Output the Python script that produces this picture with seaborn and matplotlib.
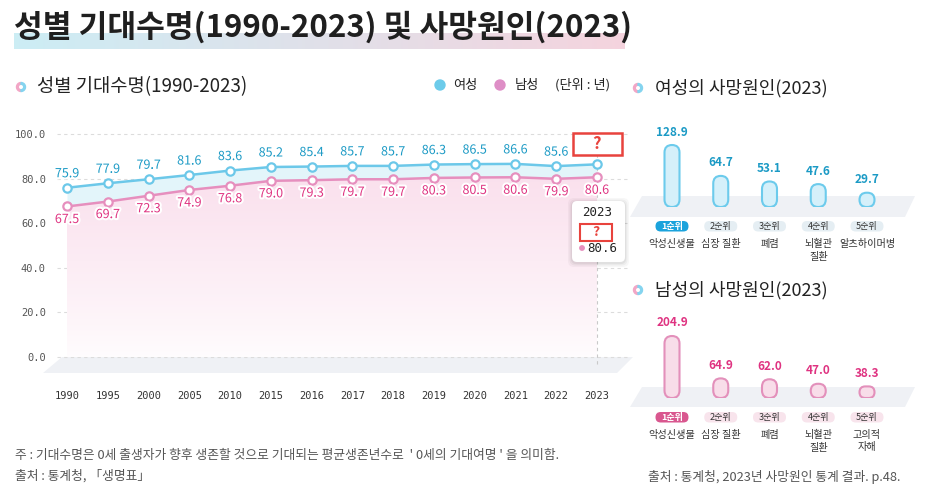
import matplotlib
matplotlib.use('Agg')
import numpy as np
import matplotlib.pyplot as plt
import seaborn as sns
from matplotlib.patches import FancyBboxPatch, Polygon, Circle, Wedge, Rectangle
import matplotlib.patheffects as pe

# 기대수명 데이터
years = ['1990', '1995', '2000', '2005', '2010', '2015', '2016',
         '2017', '2018', '2019', '2020', '2021', '2022', '2023']
female_life = [75.9, 77.9, 79.7, 81.6, 83.6, 85.2, 85.4, 85.7, 85.7, 86.3, 86.5, 86.6, 85.6, 86.4]
male_life = [67.5, 69.7, 72.3, 74.9, 76.8, 79.0, 79.3, 79.7, 79.7, 80.3, 80.5, 80.6, 79.9, 80.6]

# 사망원인 (인구 10만 명당)
female_causes = ['악성신생물', '심장 질환', '폐렴', '뇌혈관\n질환', '알츠하이머병']
female_rates = [128.9, 64.7, 53.1, 47.6, 29.7]
male_causes = ['악성신생물', '심장 질환', '폐렴', '뇌혈관\n질환', '고의적\n자해']
male_rates = [204.9, 64.9, 62.0, 47.0, 38.3]

sns.set_theme(style='white')
plt.rcParams['font.family'] = ['Noto Sans CJK KR', 'DejaVu Sans']
plt.rcParams['axes.unicode_minus'] = False

W, H = 925, 500
fig = plt.figure(figsize=(W / 100, H / 100), dpi=100)
fig.patch.set_facecolor('white')

F_LINE, F_TXT = '#6cc8e9', '#1b9ac5'
M_LINE, M_TXT = '#e68fbe', '#df3381'
MONO = ['DejaVu Sans Mono']


def px_axes(x0, y0, x1, y1, z=1):
    a = fig.add_axes([x0 / W, 1 - y1 / H, (x1 - x0) / W, (y1 - y0) / H], zorder=z)
    a.set_facecolor('none')
    return a


def to_px(a, x, y):
    dx, dy = a.transData.transform((x, y))
    return dx, H - dy


# 배경 / 오버레이 (픽셀 좌표)
bg = px_axes(0, 0, W, H, z=0)
top = px_axes(0, 0, W, H, z=10)
for a in (bg, top):
    a.set_xlim(0, W)
    a.set_ylim(H, 0)
    a.set_autoscale_on(False)
    a.axis('off')

# 제목 + 그라데이션 밑줄
grad = np.linspace(0, 1, 256)
c0, c1 = np.array([0.80, 0.93, 0.96]), np.array([0.96, 0.83, 0.87])
band = (c0[None, :] * (1 - grad[:, None]) + c1[None, :] * grad[:, None])[None, :, :]
bg.imshow(band, extent=(14, 625, 49, 33), aspect='auto', zorder=1)
bg.text(14, 27, '성별 기대수명(1990-2023) 및 사망원인(2023)', fontsize=22.5,
        fontweight='bold', color='#1f1f1f', va='center', zorder=2)


def ring(cx, cy):
    bg.add_patch(Wedge((cx, cy), 4.5, 90, 270, width=1.8, color='#f2a6c6', zorder=2))
    bg.add_patch(Wedge((cx, cy), 4.5, 270, 450, width=1.8, color='#84d4ef', zorder=2))


ring(21, 87)
bg.text(37, 87, '성별 기대수명(1990-2023)', fontsize=13.5, color='#222', va='center')
ring(638, 88)
bg.text(655, 88, '여성의 사망원인(2023)', fontsize=13, color='#222', va='center')
ring(638, 290)
bg.text(655, 290, '남성의 사망원인(2023)', fontsize=13, color='#222', va='center')

# 범례
bg.add_patch(Circle((440, 85), 5, color='#6ccbea'))
bg.text(453, 85, '여성', fontsize=9.5, color='#222', va='center')
bg.add_patch(Circle((500, 85), 5, color='#de8ec6'))
bg.text(515, 85, '남성', fontsize=9.5, color='#222', va='center')
bg.text(555, 85, '(단위 : 년)', fontsize=9.5, color='#222', va='center')

# 바닥면
floor_c = '#eff1f5'
bg.add_patch(Polygon([(62, 357), (633, 357), (617, 373), (43, 373)], fc=floor_c, ec='none'))
bg.add_patch(Polygon([(642, 196), (915, 196), (905, 217), (630, 217)], fc=floor_c, ec='none'))
bg.add_patch(Polygon([(642, 387), (915, 387), (905, 407), (630, 407)], fc=floor_c, ec='none'))

# 주석
bg.text(15, 456, "주 : 기대수명은 0세 출생자가 향후 생존할 것으로 기대되는 평균생존년수로  ' 0세의 기대여명 ' 을 의미함.",
        fontsize=9.2, color='#555', va='center')
bg.text(15, 476, '출처 : 통계청, 「생명표」', fontsize=9.2, color='#555', va='center')
bg.text(900, 477, '출처 : 통계청, 2023년 사망원인 통계 결과. p.48.', fontsize=9.2,
        color='#555', va='center', ha='right')

# ---------------- 기대수명 라인 차트 ----------------
ax = px_axes(57, 120, 630, 373, z=2)
step = (597 - 67) / (len(years) - 1)
yscale = (357 - 134) / 100
xi = np.arange(len(years))

ax.fill_between(xi, male_life, female_life, color='#e3f5fa', lw=0, zorder=1)
under = ax.fill_between(xi, 0, male_life, facecolor='none', edgecolor='none')
t = np.linspace(0, 1, 256)[:, None] ** 0.85
pink_top, pink_bot = np.array([0.98, 0.88, 0.93]), np.array([1.0, 0.99, 0.995])
g = pink_bot * (1 - t) + pink_top * t
img = ax.imshow(g[:, None, :], extent=(0, xi[-1], 0, max(male_life)), origin='lower',
                aspect='auto', zorder=1)
img.set_clip_path(under.get_paths()[0], transform=ax.transData)

ax.vlines(xi[-1], -3, 100, colors='#c9c9c9', linestyles=(0, (3, 3)), lw=0.8, zorder=2)

for vals, c in ((female_life, F_LINE), (male_life, M_LINE)):
    sns.lineplot(x=xi, y=vals, ax=ax, color=c, lw=1.8, marker='o', markersize=6,
                 markerfacecolor='white', markeredgecolor=c, markeredgewidth=1.6, zorder=4)

ax.set_xlim((57 - 67) / step, (630 - 67) / step)
ax.set_ylim(-(373 - 357) / yscale, 100 + (134 - 120) / yscale)

halo = [pe.withStroke(linewidth=3, foreground='white')]
for i, v in enumerate(female_life[:-1]):
    ax.annotate(f'{v:.1f}', (i, v), xytext=(0, 14), textcoords='offset pixels', ha='center',
                va='center', fontsize=9, color=F_TXT, path_effects=halo, zorder=5)
for i, v in enumerate(male_life):
    ax.annotate(f'{v:.1f}', (i, v), xytext=(0, -13), textcoords='offset pixels', ha='center',
                va='center', fontsize=9, color=M_TXT, path_effects=halo, zorder=5)

ax.set_yticks(np.arange(0, 101, 20))
ax.set_yticklabels([f'{v:.1f}' for v in np.arange(0, 101, 20)], family=MONO, fontsize=7.5, color='#555')
ax.set_xticks(xi)
ax.set_xticklabels(years, family=MONO, fontsize=7.5, color='#333')
ax.tick_params(axis='y', length=0, pad=8)
ax.tick_params(axis='x', length=0, pad=13)
ax.yaxis.grid(True, ls=(0, (3, 3)), color='#dcdcdc', lw=0.8)
ax.xaxis.grid(False)
ax.set_xlabel('')
ax.set_ylabel('')
sns.despine(ax=ax, left=True, bottom=True)

# 물음표 박스 + 툴팁
fx, fy = to_px(ax, xi[-1], female_life[-1])
top.add_patch(Rectangle((fx - 24, 133), 49, 22, fc='white', ec='#e8433d', lw=1.8))
top.text(fx, 144, '?', fontsize=12, fontweight='bold', color='#e8433d', ha='center', va='center')

for k, al in ((4, 0.03), (2.5, 0.04), (1.2, 0.05)):
    top.add_patch(FancyBboxPatch((572 - k, 201 - k + 1), 53 + 2 * k, 61 + 2 * k,
                                 boxstyle='round,pad=0,rounding_size=6', fc='black', ec='none', alpha=al))
top.add_patch(FancyBboxPatch((572, 201), 53, 61, boxstyle='round,pad=0,rounding_size=5',
                             fc='white', ec='none'))
top.text(597, 213, years[-1], family=MONO, fontsize=9, color='#222', ha='center', va='center')
top.add_patch(Rectangle((580, 224), 32, 17, fc='white', ec='#e8433d', lw=1.5))
top.text(596, 232.5, '?', fontsize=10, fontweight='bold', color='#e8433d', ha='center', va='center')
top.add_patch(Circle((582, 248), 2.2, color=M_LINE))
top.text(587, 248, f'{male_life[-1]:.1f}', family=MONO, fontsize=9, color='#222', va='center')


# ---------------- 사망원인 캡슐 막대 ----------------
def to_capsules(a, face, edge):
    p0 = a.transData.transform((0, 0))
    p1 = a.transData.transform((1, 1))
    sx, sy = p1[0] - p0[0], p1[1] - p0[1]
    for bar in list(a.patches):
        x, w, h = bar.get_x(), bar.get_width(), bar.get_height()
        r = min(w * sx, h * sy) / 2 / sx
        cap = FancyBboxPatch((x, 0), w, h, boxstyle=f'round,pad=0,rounding_size={r}',
                             mutation_aspect=sx / sy, fc=face, ec=edge, lw=1.5, zorder=3)
        bar.remove()
        a.add_patch(cap)


def cause_panel(y_base, causes, rates, face, edge, txt, badge, badge_light):
    a = px_axes(630, y_base - 100, 915, y_base, z=2)
    sp = 48.75
    sns.barplot(x=causes, y=rates, ax=a, width=15 / sp, color=face)
    a.set_xlim((630 - 672) / sp, len(causes) - 1 + (915 - 867) / sp)
    a.set_ylim(0, 100 / 62 * max(rates))
    to_capsules(a, face, edge)
    for i, v in enumerate(rates):
        a.annotate(f'{v:.1f}', (i, v), xytext=(0, 13), textcoords='offset pixels', ha='center',
                   va='center', fontsize=8.5, fontweight='bold', color=txt)
    a.set_xticks([])
    a.set_yticks([])
    a.set_xlabel('')
    a.set_ylabel('')
    sns.despine(ax=a, left=True, bottom=True)
    for i, name in enumerate(causes):
        cx, cy = to_px(a, i, 0)
        first = i == 0
        top.add_patch(FancyBboxPatch((cx - 16.5, cy + 14), 33, 10.5,
                                     boxstyle='round,pad=0,rounding_size=5.2',
                                     fc=badge if first else badge_light, ec='none'))
        top.text(cx, cy + 19.5, f'{i + 1}순위', fontsize=6.5, ha='center', va='center',
                 color='white' if first else '#333', fontweight='bold' if first else 'normal')
        top.text(cx, cy + 32, name, fontsize=7.3, ha='center', va='top', color='#333',
                 linespacing=1.3)


cause_panel(207, female_causes, female_rates, '#d5f0fa', '#6ccbec', F_TXT, '#1ba3dc', '#e5eef3')
cause_panel(398, male_causes, male_rates, '#f8dde9', '#e390bb', M_TXT, '#d9578f', '#f8e4ec')

fig.savefig('out.png', dpi=100, facecolor='white')
